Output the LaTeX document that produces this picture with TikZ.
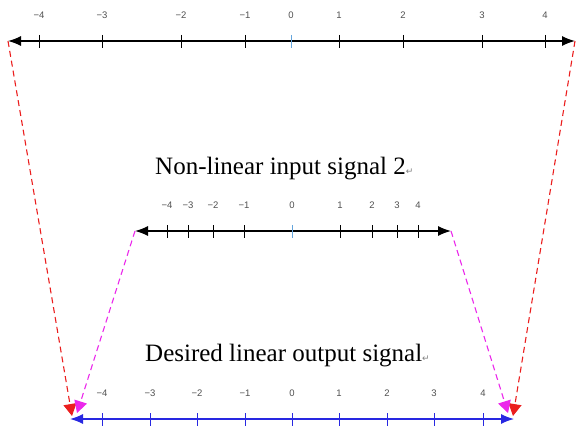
\documentclass[tikz,border=0pt]{standalone}
\usepackage{fontspec}
\setmainfont{Liberation Serif}
\newfontfamily\labfont{Liberation Sans}
\newfontfamily\symfont{DejaVu Sans}
\usetikzlibrary{arrows.meta}
\definecolor{tickgray}{RGB}{80,80,80}
\definecolor{zeroblue}{RGB}{100,165,220}
\definecolor{lineblue}{RGB}{40,40,225}
\definecolor{dashred}{RGB}{235,30,30}
\definecolor{dashmag}{RGB}{235,40,235}
\begin{document}
\begin{tikzpicture}[x=1pt,y=-1pt,
  axisline/.style={line width=1.3pt,{Latex[length=13pt,width=10pt]}-{Latex[length=13pt,width=10pt]}},
  tickmark/.style={line width=1pt},
  ticklab/.style={font=\labfont\fontsize{9.5}{10}\selectfont,text=tickgray,inner sep=0pt},
  titletext/.style={font=\fontsize{25}{30}\selectfont,inner sep=0pt,anchor=base west},
  mapline/.style={dashed,dash pattern=on 6pt off 4pt,line width=1.1pt,-{Triangle[length=12pt,width=13pt]}}]
\useasboundingbox (0,0) rectangle (577,433);

% top axis
\coordinate (tL) at (8,41);
\coordinate (tR) at (575,41);
\draw[axisline] (tL) -- (tR);
\foreach \x/\l in {39/−4,102/−3,181/−2,245/−1,339/1,403/2,482/3,545/4}{
  \draw[tickmark] (\x,35) -- (\x,48);
  \node[ticklab] at (\x,15) {\l};
}
\draw[tickmark,zeroblue] (291,35) -- (291,48);
\node[ticklab] at (291,15) {0};

% middle axis
\node[titletext] (t1) at (155,174) {Non-linear input signal 2\textcolor{gray}{\symfont\fontsize{9}{10}\selectfont ↵}};
\coordinate (mL) at (135,231);
\coordinate (mR) at (451,231);
\draw[axisline] (mL) -- (mR);
\foreach \x/\l in {167/−4,188/−3,213/−2,244/−1,340/1,372/2,397/3,418/4}{
  \draw[tickmark] (\x,225) -- (\x,238);
  \node[ticklab] at (\x,205) {\l};
}
\draw[tickmark,zeroblue] (292,225) -- (292,238);
\node[ticklab] at (292,205) {0};

% bottom axis
\node[titletext] (t2) at (145,361) {Desired linear output signal\textcolor{gray}{\symfont\fontsize{9}{10}\selectfont ↵}};
\coordinate (bL) at (70,419);
\coordinate (bR) at (514,419);
\draw[axisline,lineblue] (bL) -- (bR);
\foreach \x/\l in {102/−4,150/−3,197/−2,245/−1,292/0,339/1,387/2,434/3,483/4}{
  \draw[tickmark,lineblue] (\x,413) -- (\x,426);
  \node[ticklab] at (\x,393) {\l};
}

% mapping lines
\coordinate (rL) at (72,416);
\coordinate (rR) at (513,416);
\coordinate (pL) at (77,413);
\coordinate (pR) at (508,413);
\draw[mapline,dashred] (tL) -- (rL);
\draw[mapline,dashred] (tR) -- (rR);
\draw[mapline,dashmag] (mL) -- (pL);
\draw[mapline,dashmag] (mR) -- (pR);
\end{tikzpicture}
\end{document}
